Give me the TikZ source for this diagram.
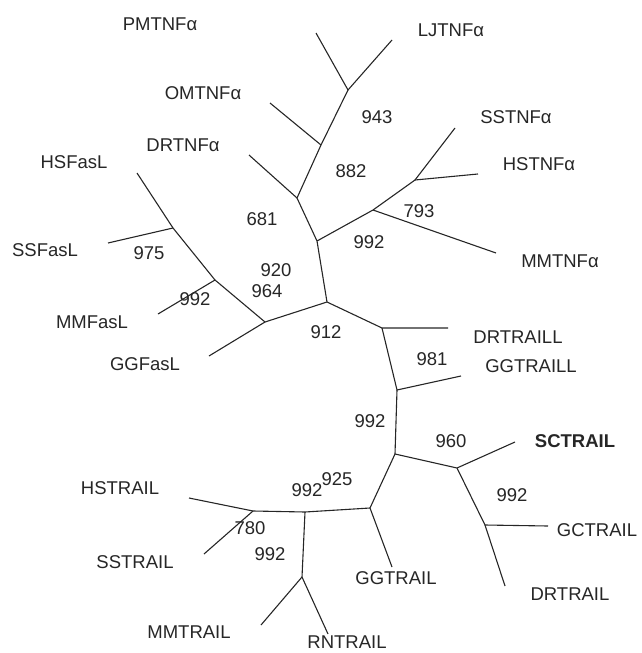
\documentclass[tikz,border=0pt]{standalone}
\usepackage{fontspec}
\setmainfont{Liberation Sans}
\begin{document}
\begin{tikzpicture}[x=1pt,y=-1pt,
  branch/.style={line width=1.1pt,color=black!85},
  taxon/.style={font=\fontsize{18.5}{20}\selectfont,text=black!85,inner sep=0pt},
  boot/.style={font=\fontsize{18.5}{20}\selectfont,text=black!85,inner sep=0pt}]
\useasboundingbox (0,0) rectangle (641,653);

% internal nodes of the tree
\coordinate (A) at (348,90);
\coordinate (B) at (321,145);
\coordinate (C) at (297,198);
\coordinate (I) at (317,241);
\coordinate (K) at (373,210);
\coordinate (J) at (415,180);
\coordinate (G) at (327,302);
\coordinate (F) at (265,322);
\coordinate (E) at (215,280);
\coordinate (D) at (173,228);
\coordinate (L) at (382,328);
\coordinate (M) at (397,390);
\coordinate (N) at (395,454);
\coordinate (O) at (457,468);
\coordinate (Q) at (485,525);
\coordinate (P) at (370,508);
\coordinate (S) at (305,512);
\coordinate (T) at (302,577);
\coordinate (R) at (253,511);

% leaf tips
\coordinate (pmtnf) at (316,33);
\coordinate (ljtnf) at (392,40);
\coordinate (omtnf) at (270,103);
\coordinate (drtnf) at (249,155);
\coordinate (sstnf) at (455,128);
\coordinate (hstnf) at (478,174);
\coordinate (mmtnf) at (496,253);
\coordinate (hsfas) at (137,173);
\coordinate (ssfas) at (108,243);
\coordinate (mmfas) at (158,314);
\coordinate (ggfas) at (209,356);
\coordinate (drtrl) at (448,328);
\coordinate (ggtrl) at (461,376);
\coordinate (sctr) at (515,442);
\coordinate (gctr) at (548,526);
\coordinate (drtr) at (505,586);
\coordinate (ggtr) at (392,567);
\coordinate (mmtr) at (261,625);
\coordinate (rntr) at (328,634);
\coordinate (hstr) at (189,498);
\coordinate (sstr) at (204,554);

% branches
\draw[branch] (pmtnf) -- (A) -- (ljtnf);
\draw[branch] (A) -- (B) -- (C) -- (I) -- (G);
\draw[branch] (B) -- (omtnf);
\draw[branch] (C) -- (drtnf);
\draw[branch] (I) -- (K) -- (J) -- (sstnf);
\draw[branch] (J) -- (hstnf);
\draw[branch] (K) -- (mmtnf);
\draw[branch] (G) -- (F) -- (E) -- (D) -- (hsfas);
\draw[branch] (D) -- (ssfas);
\draw[branch] (E) -- (mmfas);
\draw[branch] (F) -- (ggfas);
\draw[branch] (G) -- (L) -- (drtrl);
\draw[branch] (L) -- (M) -- (ggtrl);
\draw[branch] (M) -- (N) -- (O) -- (sctr);
\draw[branch] (O) -- (Q) -- (gctr);
\draw[branch] (Q) -- (drtr);
\draw[branch] (N) -- (P) -- (ggtr);
\draw[branch] (P) -- (S) -- (R) -- (hstr);
\draw[branch] (R) -- (sstr);
\draw[branch] (S) -- (T) -- (mmtr);
\draw[branch] (T) -- (rntr);

% taxon labels
\node[taxon] (lpmtnf) at (160,24) {PMTNFα};
\node[taxon] (lljtnf) at (451,30) {LJTNFα};
\node[taxon] (lomtnf) at (203,93) {OMTNFα};
\node[taxon] (lsstnf) at (516,117) {SSTNFα};
\node[taxon] (ldrtnf) at (183,145) {DRTNFα};
\node[taxon] (lhstnf) at (539,164) {HSTNFα};
\node[taxon] (lhsfas) at (74,162) {HSFasL};
\node[taxon] (lssfas) at (45,250) {SSFasL};
\node[taxon] (lmmtnf) at (560,261) {MMTNFα};
\node[taxon] (lmmfas) at (92,322) {MMFasL};
\node[taxon] (lggfas) at (145,364) {GGFasL};
\node[taxon] (ldrtrl) at (518,337) {DRTRAILL};
\node[taxon] (lggtrl) at (531,366) {GGTRAILL};
\node[taxon,font=\fontsize{18.5}{20}\selectfont\bfseries] (lsctr) at (575,441) {SCTRAIL};
\node[taxon] (lhstr) at (120,488) {HSTRAIL};
\node[taxon] (lgctr) at (597,530) {GCTRAIL};
\node[taxon] (lsstr) at (135,562) {SSTRAIL};
\node[taxon] (lggtr) at (396,578) {GGTRAIL};
\node[taxon] (ldrtr) at (570,594) {DRTRAIL};
\node[taxon] (lmmtr) at (189,632) {MMTRAIL};
\node[taxon] (lrntr) at (347,642) {RNTRAIL};

% bootstrap values
\node[boot] (b943) at (377,117) {943};
\node[boot] (b882) at (351,171) {882};
\node[boot] (b681) at (262,219) {681};
\node[boot] (b793) at (419,211) {793};
\node[boot] (b992a) at (369,242) {992};
\node[boot] (b975) at (149,253) {975};
\node[boot] (b920) at (276,270) {920};
\node[boot] (b964) at (267,291) {964};
\node[boot] (b992b) at (195,299) {992};
\node[boot] (b912) at (326,332) {912};
\node[boot] (b981) at (432,359) {981};
\node[boot] (b992c) at (370,421) {992};
\node[boot] (b960) at (451,441) {960};
\node[boot] (b992d) at (512,495) {992};
\node[boot] (b992e) at (307,490) {992};
\node[boot] (b925) at (337,479) {925};
\node[boot] (b780) at (250,528) {780};
\node[boot] (b992f) at (270,554) {992};
\end{tikzpicture}
\end{document}
